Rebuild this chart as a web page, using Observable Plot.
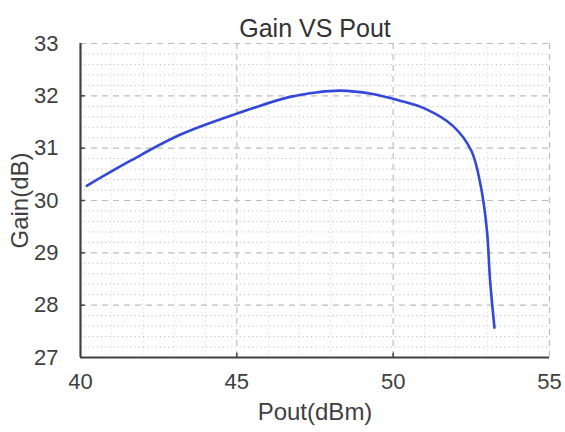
<!DOCTYPE html>
<html>
<head>
<meta charset="utf-8">
<script src="https://cdn.jsdelivr.net/npm/d3@7"></script>
<script src="https://cdn.jsdelivr.net/npm/@observablehq/plot@0.6"></script>
<style>
  html, body { margin: 0; padding: 0; background: #fff; }
  #chart { width: 565px; height: 432px; }
</style>
</head>
<body>
<div id="chart"></div>
<script>
const poutDbm = [40.2, 41.6, 43.2, 45.0, 46.7, 47.6, 48.3, 49.3, 50.2, 51.0, 51.9, 52.5, 52.8, 53.0, 53.1, 53.24];
const gainDb  = [30.28, 30.76, 31.26, 31.66, 31.98, 32.07, 32.10, 32.04, 31.91, 31.76, 31.43, 30.95, 30.28, 29.42, 28.47, 27.57];
const xTicks = [40, 45, 50, 55];
const yTicks = [27, 28, 29, 30, 31, 32, 33];
const yMinor = d3.range(27.2, 33, 0.2).filter(v => Math.abs(v - Math.round(v)) > 0.05);
const xMinor = d3.range(41, 55, 1).filter(v => v % 5 !== 0);

const data = poutDbm.map((x, i) => ({x, y: gainDb[i]}));
const grid = "#bdbdbd";
const ink = "#404040";

const chart = Plot.plot({
  width: 565,
  height: 432,
  marginLeft: 80,
  marginRight: 16,
  marginTop: 43,
  marginBottom: 75,
  style: {fontFamily: "'Liberation Sans', Arial, sans-serif", background: "#fff", color: ink, fontSize: "22px"},
  x: {domain: [40, 55]},
  y: {domain: [27, 33]},
  marks: [
    Plot.ruleY(yMinor, {stroke: grid, strokeWidth: 1, strokeDasharray: "1.2,3"}),
    Plot.ruleX(xMinor, {stroke: "#d6d6d6", strokeWidth: 1, strokeDasharray: "1.2,3"}),
    Plot.ruleY(yTicks.filter(v => v > 27), {stroke: grid, strokeWidth: 1.2, strokeDasharray: "6,5"}),
    Plot.ruleX(xTicks.filter(v => v > 40), {stroke: grid, strokeWidth: 1.2, strokeDasharray: "6,5"}),
    Plot.ruleY(yTicks.slice(1, -1), {x1: 40, x2: 40.15, stroke: ink, strokeWidth: 1.5}),
    Plot.ruleX(xTicks.slice(1, -1), {y1: 27, y2: 27.08, stroke: ink, strokeWidth: 1.5}),
    Plot.ruleX([40], {stroke: ink, strokeWidth: 2.2}),
    Plot.ruleY([27], {stroke: ink, strokeWidth: 2.2}),
    Plot.axisX({ticks: xTicks, tickFormat: d3.format("d"), tickSize: 0, tickPadding: 16, label: "Pout(dBm)", labelAnchor: "center", labelArrow: "none", labelOffset: 62}),
    Plot.axisY({ticks: yTicks, tickFormat: d3.format("d"), tickSize: 0, tickPadding: 22, label: "Gain(dB)", labelAnchor: "center", labelArrow: "none", labelOffset: 70}),
    Plot.line(data, {x: "x", y: "y", stroke: "#3347d9", strokeWidth: 2.6, curve: "catmull-rom"}),
    Plot.text(["Gain VS Pout"], {frameAnchor: "top", dy: -24, fill: "#333"})
  ]
});
chart.querySelectorAll('[aria-label="x-axis label"] text, [aria-label="y-axis label"] text').forEach(t => t.setAttribute("font-size", 24));
chart.querySelectorAll('[aria-label="x-axis label"], [aria-label="y-axis label"]').forEach(g => g.setAttribute("font-size", 24));
chart.querySelectorAll('[aria-label="text"]').forEach(g => g.setAttribute("font-size", 25));
document.getElementById("chart").append(chart);
</script>
</body>
</html>
